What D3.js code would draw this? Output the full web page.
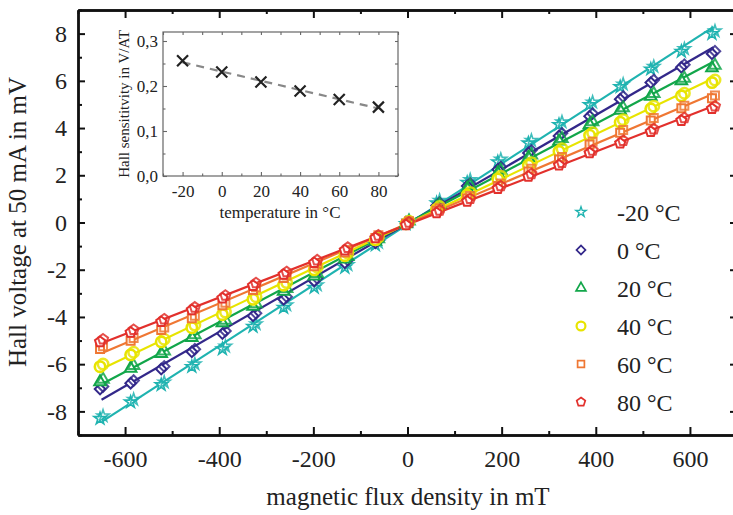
<!DOCTYPE html>
<html>
<head>
<meta charset="utf-8">
<script src="https://cdn.jsdelivr.net/npm/d3@7"></script>
<style>
  body { margin: 0; background: #fff; }
  text { font-family: "Liberation Serif", "DejaVu Serif", serif; fill: #222; }
</style>
</head>
<body>
<svg id="chart" width="733" height="515"></svg>
<script>
// magnetic flux density in mT
var fluxDensity = [-650, -585, -520, -455, -390, -325, -260, -195, -130, -65, 0,
                   65, 130, 195, 260, 325, 390, 455, 520, 585, 650];

// Hall voltage in mV, one array per temperature
var voltM20 = [-8.25, -7.55, -6.82, -6.05, -5.3, -4.35, -3.55, -2.7, -1.85, -0.9, 0,
               0.88, 1.75, 2.62, 3.42, 4.2, 5.04, 5.8, 6.55, 7.3, 8.05];
var volt0   = [-7.0, -6.75, -6.15, -5.42, -4.65, -3.9, -3.2, -2.42, -1.65, -0.8, 0,
               0.78, 1.6, 2.3, 3.0, 3.72, 4.56, 5.28, 5.98, 6.63, 7.2];
var volt20  = [-6.7, -6.12, -5.5, -4.82, -4.2, -3.5, -2.86, -2.22, -1.5, -0.75, 0,
               0.7, 1.5, 2.15, 2.8, 3.5, 4.2, 4.8, 5.4, 6.05, 6.6];
var volt40  = [-6.05, -5.55, -5.0, -4.4, -3.85, -3.2, -2.6, -1.95, -1.35, -0.68, 0,
               0.62, 1.22, 1.9, 2.48, 3.07, 3.75, 4.3, 4.87, 5.42, 5.98];
var volt60  = [-5.3, -4.95, -4.5, -4.0, -3.45, -2.8, -2.3, -1.8, -1.22, -0.6, 0,
               0.55, 1.07, 1.6, 2.22, 2.72, 3.36, 3.86, 4.37, 4.89, 5.32];
var volt80  = [-5.0, -4.6, -4.15, -3.65, -3.15, -2.62, -2.15, -1.65, -1.12, -0.6, -0.05,
               0.46, 0.95, 1.49, 2.0, 2.48, 3.0, 3.41, 3.9, 4.37, 4.87];

var temperatures = [-20, 0, 20, 40, 60, 80];
var legendLabels = ["-20 °C", "0 °C", "20 °C", "40 °C", "60 °C", "80 °C"];

// inset: Hall sensitivity in V/AT per temperature
var sensitivity = [0.256, 0.231, 0.209, 0.189, 0.170, 0.153];

// ticks
var xMajor = [-600, -400, -200, 0, 200, 400, 600];
var xMinor = [-700, -500, -300, -100, 100, 300, 500, 700];
var yMajor = [-8, -6, -4, -2, 0, 2, 4, 6, 8];
var yMinor = [-9, -7, -5, -3, -1, 1, 3, 5, 7, 9];
var insetXMajor = [-20, 0, 20, 40, 60, 80];
var insetXMinor = [-30, -10, 10, 30, 50, 70, 90];
var insetYMajor = [0, 0.1, 0.2, 0.3];
var insetYMinor = [0.05, 0.15, 0.25];

var colors = ["#1fb3b0", "#33288a", "#12a64a", "#e8e400", "#ef7733", "#e2302c"];
var shapes = ["star", "diamond", "triangle", "circle", "square", "pentagon"];

var svg = d3.select("#chart");

var x = d3.scaleLinear().domain([-700, 700]).range([78, 737]);
var y = d3.scaleLinear().domain([-9, 9]).range([435, 10]);

var series = [voltM20, volt0, volt20, volt40, volt60, volt80].map(function(v, i) {
    return {
        color: colors[i],
        shape: shapes[i],
        label: legendLabels[i],
        points: fluxDensity.map(function(b, j) { return {b: b, v: v[j]}; })
    };
});

// linear fit (least squares)
function fit(xs, ys) {
    var mx = d3.mean(xs), my = d3.mean(ys);
    var sxy = d3.sum(xs, function(d, i) { return (d - mx) * (ys[i] - my); });
    var sxx = d3.sum(xs, function(d) { return (d - mx) * (d - mx); });
    var k = sxy / sxx;
    return function(t) { return my + k * (t - mx); };
}

function pentagon(r) {
    var p = d3.range(5).map(function(i) {
        var a = -Math.PI / 2 + i * 2 * Math.PI / 5;
        return [r * Math.cos(a), r * Math.sin(a)];
    });
    return "M" + p.join("L") + "Z";
}

function markerPath(shape) {
    if (shape === "star") return d3.symbol(d3.symbolStar, 45)();
    if (shape === "diamond") return d3.symbol(d3.symbolSquare, 56)();
    if (shape === "triangle") return d3.symbol(d3.symbolTriangle, 58)();
    if (shape === "circle") return d3.symbol(d3.symbolCircle, 85)();
    if (shape === "square") return d3.symbol(d3.symbolSquare, 64)();
    return pentagon(5.3);
}

function drawMarker(g, shape, color, px, py, ghost, scale) {
    var rot = shape === "diamond" ? " rotate(45)" : "";
    var sc = scale ? " scale(" + scale + ")" : "";
    g.append("path")
        .attr("d", markerPath(shape))
        .attr("transform", "translate(" + px + "," + py + ")" + rot + sc)
        .attr("fill", ghost ? "none" : "#fff")
        .attr("stroke", color)
        .attr("stroke-width", shape === "circle" ? 2.6 : (shape === "star" ? 1.6 : 2))
        .attr("stroke-opacity", ghost ? 0.85 : 1);
}

// fit lines
var bExt = d3.extent(fluxDensity);
var lineGroup = svg.append("g");
series.forEach(function(s) {
    var f = fit(s.points.map(function(d) { return d.b; }), s.points.map(function(d) { return d.v; }));
    lineGroup.append("line")
        .attr("x1", x(bExt[0])).attr("y1", y(f(bExt[0])))
        .attr("x2", x(bExt[1])).attr("y2", y(f(bExt[1])))
        .attr("stroke", s.color)
        .attr("stroke-width", 2.2);
});

// markers (measured twice, so drawn doubled)
var markerGroup = svg.append("g");
series.forEach(function(s) {
    s.points.forEach(function(d) {
        drawMarker(markerGroup, s.shape, s.color, x(d.b) - 1.5, y(d.v) + 1.3, false);
        drawMarker(markerGroup, s.shape, s.color, x(d.b) + 1.5, y(d.v) - 1.3, true);
    });
});

// axes
function styleAxis(g) {
    g.select(".domain").attr("stroke", "#111").attr("stroke-width", 2.4);
    g.selectAll(".tick line").attr("stroke", "#111").attr("stroke-width", 2);
    g.selectAll(".tick text").attr("fill", "#222");
}
var fmt = function(d) { return String(d); };

svg.append("g").attr("transform", "translate(0,435)")
    .call(d3.axisBottom(x).tickValues(xMajor).tickSize(-8).tickSizeOuter(0).tickPadding(15).tickFormat(fmt))
    .attr("font-size", 24).attr("font-family", null).call(styleAxis);
svg.append("g").attr("transform", "translate(0,435)")
    .call(d3.axisBottom(x).tickValues(xMinor).tickSize(-4).tickSizeOuter(0).tickFormat(""))
    .call(styleAxis);
svg.append("g").attr("transform", "translate(0,10)")
    .call(d3.axisTop(x).tickValues(xMajor).tickSize(-8).tickSizeOuter(0).tickFormat(""))
    .call(styleAxis);
svg.append("g").attr("transform", "translate(0,10)")
    .call(d3.axisTop(x).tickValues(xMinor).tickSize(-4).tickSizeOuter(0).tickFormat(""))
    .call(styleAxis);

svg.append("g").attr("transform", "translate(78,0)")
    .call(d3.axisLeft(y).tickValues(yMajor).tickSize(-7).tickSizeOuter(0).tickPadding(11).tickFormat(fmt))
    .attr("font-size", 24).attr("font-family", null).call(styleAxis);
svg.append("g").attr("transform", "translate(78,0)")
    .call(d3.axisLeft(y).tickValues(yMinor).tickSize(-4).tickSizeOuter(0).tickFormat(""))
    .call(styleAxis);
svg.append("g").attr("transform", "translate(737,0)")
    .call(d3.axisRight(y).tickValues(yMajor).tickSize(-7).tickSizeOuter(0).tickFormat(""))
    .call(styleAxis);
svg.append("g").attr("transform", "translate(737,0)")
    .call(d3.axisRight(y).tickValues(yMinor).tickSize(-4).tickSizeOuter(0).tickFormat(""))
    .call(styleAxis);

// axis titles
svg.append("text")
    .attr("x", 408).attr("y", 505)
    .attr("text-anchor", "middle")
    .attr("font-size", 25)
    .text("magnetic flux density in mT");
svg.append("text")
    .attr("transform", "translate(26,222) rotate(-90)")
    .attr("text-anchor", "middle")
    .attr("font-size", 25)
    .text("Hall voltage at 50 mA in mV");

// legend
var legend = svg.append("g");
series.forEach(function(s, i) {
    var ly = 212 + i * 38;
    drawMarker(legend, s.shape, s.color, 581, ly, false, 0.85);
    legend.append("text")
        .attr("x", 617).attr("y", ly + 9)
        .attr("font-size", 24)
        .text(s.label);
});

// inset
var ix = d3.scaleLinear().domain([-30, 90]).range([163, 398]);
var iy = d3.scaleLinear().domain([0, 0.32]).range([176, 32]);
var inset = svg.append("g");
inset.append("rect")
    .attr("x", 163).attr("y", 32).attr("width", 235).attr("height", 144)
    .attr("fill", "#fff").attr("stroke", "#666").attr("stroke-width", 1.2);

function styleInset(g) {
    g.select(".domain").remove();
    g.selectAll(".tick line").attr("stroke", "#666").attr("stroke-width", 1.1);
    g.selectAll(".tick text").attr("fill", "#222");
}
var comma = function(d) { return d3.format(".1f")(d).replace(".", ","); };

inset.append("g").attr("transform", "translate(0,176)")
    .call(d3.axisBottom(ix).tickValues(insetXMajor).tickSize(-4).tickPadding(9).tickFormat(fmt))
    .attr("font-size", 17).attr("font-family", null).call(styleInset);
inset.append("g").attr("transform", "translate(0,176)")
    .call(d3.axisBottom(ix).tickValues(insetXMinor).tickSize(-2.5).tickFormat(""))
    .call(styleInset);
inset.append("g").attr("transform", "translate(0,32)")
    .call(d3.axisTop(ix).tickValues(insetXMajor.concat(insetXMinor)).tickSize(-3).tickFormat(""))
    .call(styleInset);
inset.append("g").attr("transform", "translate(163,0)")
    .call(d3.axisLeft(iy).tickValues(insetYMajor).tickSize(-4).tickPadding(5).tickFormat(comma))
    .attr("font-size", 17).attr("font-family", null).call(styleInset);
inset.append("g").attr("transform", "translate(163,0)")
    .call(d3.axisLeft(iy).tickValues(insetYMinor).tickSize(-2.5).tickFormat(""))
    .call(styleInset);
inset.append("g").attr("transform", "translate(398,0)")
    .call(d3.axisRight(iy).tickValues(insetYMajor.concat(insetYMinor)).tickSize(-3).tickFormat(""))
    .call(styleInset);

var fI = fit(temperatures, sensitivity);
var tExt = d3.extent(temperatures);
inset.append("line")
    .attr("x1", ix(tExt[0])).attr("y1", iy(fI(tExt[0])))
    .attr("x2", ix(tExt[1])).attr("y2", iy(fI(tExt[1])))
    .attr("stroke", "#888").attr("stroke-width", 2.2)
    .attr("stroke-dasharray", "8,6");

inset.selectAll(".cross")
    .data(temperatures)
    .enter()
    .append("path")
    .attr("class", "cross")
    .attr("transform", function(d, i) { return "translate(" + ix(d) + "," + iy(sensitivity[i]) + ")"; })
    .attr("d", "M-5.5,-5.5L5.5,5.5M-5.5,5.5L5.5,-5.5")
    .attr("stroke", "#222")
    .attr("stroke-width", 2.2);

inset.append("text")
    .attr("x", 280).attr("y", 218)
    .attr("text-anchor", "middle")
    .attr("font-size", 17)
    .text("temperature in °C");
inset.append("text")
    .attr("transform", "translate(129,104) rotate(-90)")
    .attr("text-anchor", "middle")
    .attr("font-size", 15)
    .text("Hall sensititvity in V/AT");
</script>
</body>
</html>
